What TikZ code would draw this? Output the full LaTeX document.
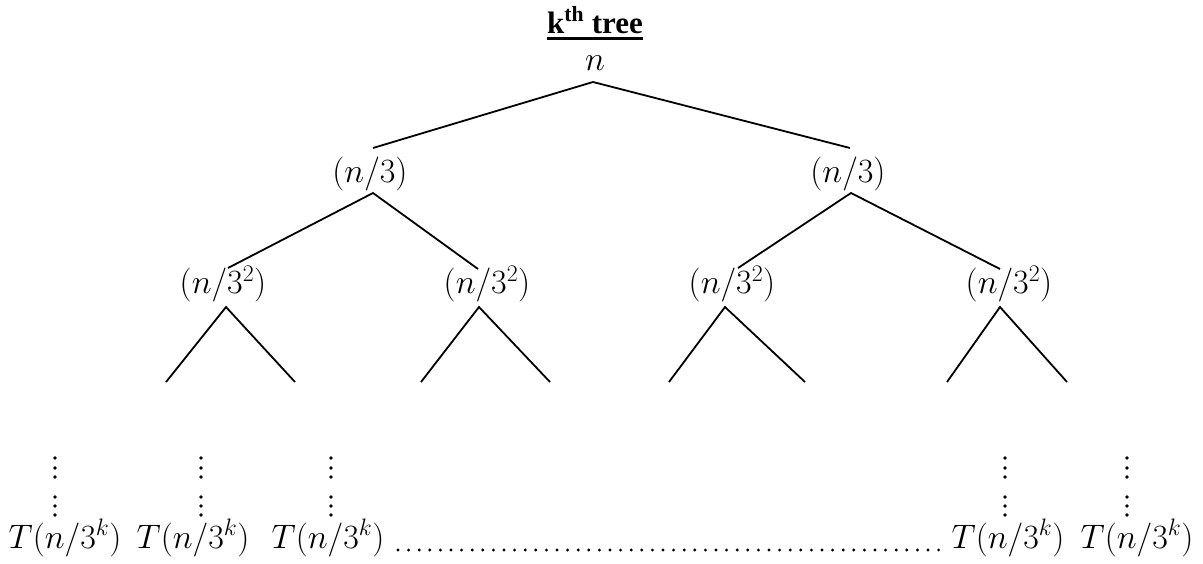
\RequirePackage{fix-cm}
\documentclass[tikz,border=0pt]{standalone}
\usepackage{fontspec}
\setmainfont{Liberation Serif}
\begin{document}
\begin{tikzpicture}[x=1pt,y=-1pt,
  lbl/.style={inner sep=0pt, font=\fontsize{34}{37}\selectfont},
  edge/.style={line width=1.8pt},
  leader/.style={line width=3.2pt, line cap=round, dash pattern=on 0pt off 10.6pt}]
\useasboundingbox (0,0) rectangle (1203,563);
% title
\node[font=\bfseries\fontsize{31}{34}\selectfont, inner sep=0pt, anchor=base] (ttl) at (595,33) {k\textsuperscript{th} tree};
\draw[line width=2.6pt] ([yshift=-5.5pt]ttl.base west) -- ([yshift=-5.5pt]ttl.base east);
% root
\node[lbl] (root) at (595,63) {$n$};
\coordinate (rA) at (593,82);
\coordinate (rL) at (373,148);
\coordinate (rR) at (850,148);
\draw[edge] (rL) -- (rA) -- (rR);
% level 1
\node[lbl] (L) at (370,174) {$(n/3)$};
\node[lbl] (R) at (848,174) {$(n/3)$};
\coordinate (LA) at (373,193);
\coordinate (LL) at (228,268);
\coordinate (LR) at (478,269);
\draw[edge] (LL) -- (LA) -- (LR);
\coordinate (RA) at (851,193);
\coordinate (RL) at (738,268);
\coordinate (RR) at (1000,269);
\draw[edge] (RL) -- (RA) -- (RR);
% level 2
\node[lbl] (n1) at (223,284) {$(n/3^2)$};
\node[lbl] (n2) at (487,284) {$(n/3^2)$};
\node[lbl] (n3) at (732,284) {$(n/3^2)$};
\node[lbl] (n4) at (1009,284) {$(n/3^2)$};
% small subtrees
\coordinate (s1a) at (226,307); \coordinate (s1l) at (166,382); \coordinate (s1r) at (295,382);
\coordinate (s2a) at (479,307); \coordinate (s2l) at (421,382); \coordinate (s2r) at (550,382);
\coordinate (s3a) at (725,307); \coordinate (s3l) at (669,382); \coordinate (s3r) at (805,382);
\coordinate (s4a) at (1000,307); \coordinate (s4l) at (947,382); \coordinate (s4r) at (1067,382);
\draw[edge] (s1l) -- (s1a) -- (s1r);
\draw[edge] (s2l) -- (s2a) -- (s2r);
\draw[edge] (s3l) -- (s3a) -- (s3r);
\draw[edge] (s4l) -- (s4a) -- (s4r);
% vertical dots
\foreach \x in {55,201,331,1005,1127}
  \foreach \y in {458,468,477,497,506,515}
    \fill (\x,\y) circle (1.8pt);
% bottom labels
\node[lbl] (t1) at (65,538) {$T(n/3^k)$};
\node[lbl] (t2) at (193,538) {$T(n/3^k)$};
\node[lbl] (t3) at (328,538) {$T(n/3^k)$};
\node[lbl] (t4) at (1008,538) {$T(n/3^k)$};
\node[lbl] (t5) at (1137,538) {$T(n/3^k)$};
% leader dots
\coordinate (d0) at (398,550);
\coordinate (d1) at (946,550);
\draw[leader] (d0) -- (d1);
\end{tikzpicture}
\end{document}
